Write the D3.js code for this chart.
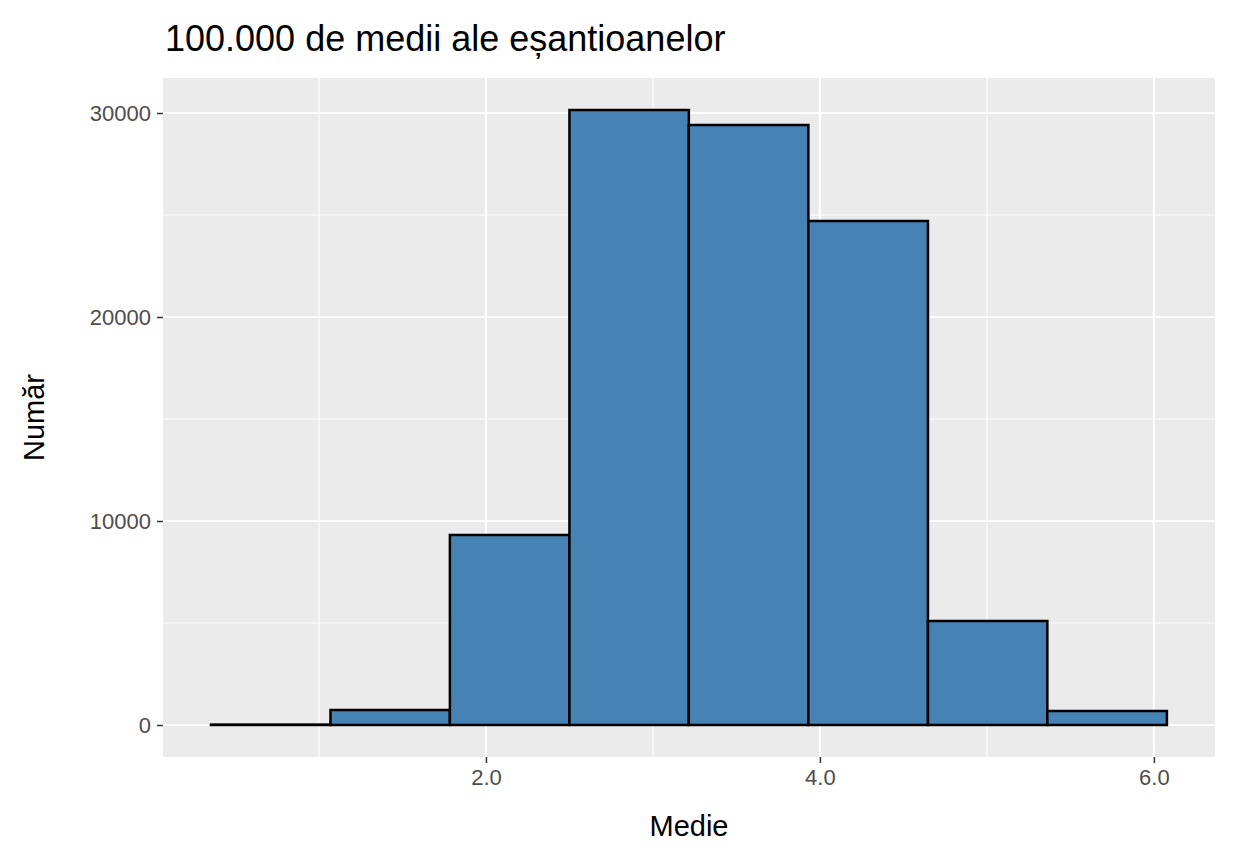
<!DOCTYPE html><html><head><meta charset="utf-8"><script src="https://cdn.jsdelivr.net/npm/d3@7"></script>
<style>body{margin:0;background:#fff}text{font-family:"Liberation Sans",Arial,sans-serif}</style></head><body>
<script>
const binEdges=[0.353,1.069,1.784,2.500,3.215,3.931,4.647,5.362,6.078];
const counts=[20,735,9314,30147,29412,24706,5098,686];
const xTicks=[2,4,6];
const yTicks=[0,10000,20000,30000];
const W=1234,H=864,L=163,R=1215,T=78,B=757;
const svg=d3.select("body").append("svg").attr("width",W).attr("height",H);
const x=d3.scaleLinear().domain([0.066,6.366]).range([L,R]);
const y=d3.scaleLinear().domain([-1569,31716]).range([B,T]);
svg.append("rect").attr("x",L).attr("y",T).attr("width",R-L).attr("height",B-T).attr("fill","#ebebeb");
const g=svg.append("g");
[1,3,5].forEach(v=>g.append("line").attr("x1",x(v)).attr("x2",x(v)).attr("y1",T).attr("y2",B).attr("stroke","#fff").attr("stroke-width",1.1));
[5000,15000,25000].forEach(v=>g.append("line").attr("y1",y(v)).attr("y2",y(v)).attr("x1",L).attr("x2",R).attr("stroke","#fff").attr("stroke-width",1.1));
xTicks.forEach(v=>g.append("line").attr("x1",x(v)).attr("x2",x(v)).attr("y1",T).attr("y2",B).attr("stroke","#fff").attr("stroke-width",2.2));
yTicks.forEach(v=>g.append("line").attr("y1",y(v)).attr("y2",y(v)).attr("x1",L).attr("x2",R).attr("stroke","#fff").attr("stroke-width",2.2));
svg.selectAll(".bar").data(counts).enter().append("rect")
 .attr("x",(d,i)=>x(binEdges[i])).attr("width",(d,i)=>x(binEdges[i+1])-x(binEdges[i]))
 .attr("y",d=>y(d)).attr("height",d=>y(0)-y(d))
 .attr("fill","#4682b4").attr("stroke","#000").attr("stroke-width",2.5);
const xa=svg.append("g").attr("transform",`translate(0,${B})`).call(d3.axisBottom(x).tickValues(xTicks).tickSize(6).tickPadding(6));
const ya=svg.append("g").attr("transform",`translate(${L},0)`).call(d3.axisLeft(y).tickValues(yTicks).tickSize(6).tickPadding(6).tickFormat(d3.format("d")));
[xa,ya].forEach(a=>{a.select(".domain").remove();a.selectAll("line").attr("stroke","#333").attr("stroke-width",1.5);a.selectAll("text").attr("fill","#4d4d4d").style("font-size","22px");});
svg.append("text").attr("x",(L+R)/2).attr("y",836).attr("text-anchor","middle").style("font-size","29px").text("Medie");
svg.append("text").attr("transform",`translate(44,${(T+B)/2}) rotate(-90)`).attr("text-anchor","middle").style("font-size","29px").text("Număr");
svg.append("text").attr("x",165).attr("y",51).style("font-size","36px").text("100.000 de medii ale eșantioanelor");
</script></body></html>
